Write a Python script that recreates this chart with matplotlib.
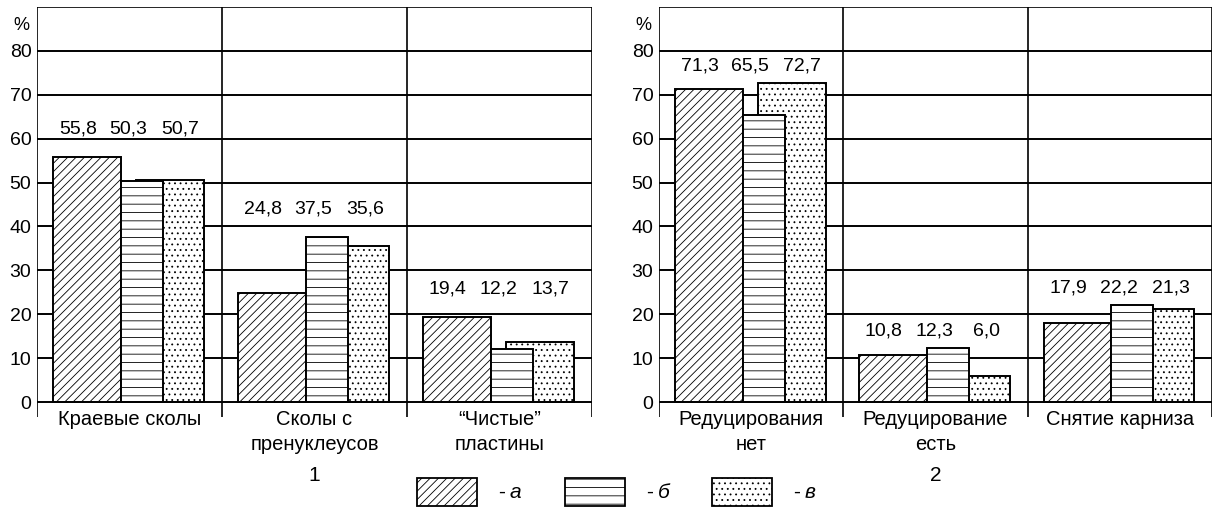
import numpy as np
import matplotlib
matplotlib.use("Agg")
import matplotlib.pyplot as plt
from matplotlib.patches import Rectangle

plt.rcParams["font.family"] = ["Liberation Sans", "DejaVu Sans"]
plt.rcParams["hatch.linewidth"] = 0.6

# panel 1
cats1 = ["Краевые сколы", "Сколы с\nпренуклеусов", "\u201cЧистые\u201d\nпластины"]
a1 = [55.8, 24.8, 19.4]
b1 = [50.3, 37.5, 12.2]
v1 = [50.7, 35.6, 13.7]

# panel 2
cats2 = ["Редуцирования\nнет", "Редуцирование\nесть", "Снятие карниза"]
a2 = [71.3, 10.8, 17.9]
b2 = [65.5, 12.3, 22.2]
v2 = [72.7, 6.0, 21.3]

yticks = [0, 10, 20, 30, 40, 50, 60, 70, 80]
series_names = ["а", "б", "в"]
hatches = ["////", "--", "..."]

W, H = 1214, 508
fig = plt.figure(figsize=(W / 100, H / 100), dpi=100)


def fmt(v):
    return f"{v:.1f}".replace(".", ",")


def draw_panel(ax, cats, a, b, v, label_off, panel_no):
    n = len(cats)
    left = np.arange(n)
    ax.set_xlim(0, n)
    ax.set_ylim(-3.4, 90)
    for s in ax.spines.values():
        s.set_visible(False)
    # grid
    for y in yticks[1:]:
        ax.plot([0, n], [y, y], color="black", lw=1.4, zorder=0.5)
    ax.plot([0, n], [0, 0], color="black", lw=1.4, zorder=4)
    ax.plot([0, n], [90, 90], color="black", lw=1.2, zorder=4)
    for x in range(n + 1):
        ax.plot([x, x], [-3.4, 90], color="black", lw=1.2, zorder=4)

    # bars: в behind б
    ax.bar(left + 0.535, v, width=0.37, align="edge", color="white",
           edgecolor="black", hatch=hatches[2], lw=1.4, zorder=1)
    ax.bar(left + 0.086, a, width=0.368, align="edge", color="white",
           edgecolor="black", hatch=hatches[0], lw=1.4, zorder=2)
    ax.bar(left + 0.454, b, width=0.228, align="edge", color="white",
           edgecolor="black", hatch=hatches[1], lw=1.4, zorder=3)

    for i in range(n):
        ytxt = max(a[i], b[i], v[i]) + label_off
        for dx, val in zip([0.22, 0.495, 0.775], [a[i], b[i], v[i]]):
            ax.text(i + dx, ytxt, fmt(val), ha="center", va="center",
                    fontsize=14)
        ax.text(i + 0.5, -1.9, cats[i], ha="center", va="top", fontsize=14.5,
                linespacing=1.4)

    ax.set_xticks([])
    ax.set_yticks(yticks)
    ax.set_yticklabels([str(t) for t in yticks], fontsize=14)
    ax.tick_params(axis="y", length=0, pad=4)
    ax.text(-0.085, 85.8, "%", ha="center", va="center", fontsize=13)
    ax.text(1.5, -16.8, panel_no, ha="center", va="center", fontsize=15)


ax1 = fig.add_axes([37 / W, (H - 417) / H, 555 / W, 410 / H])
ax2 = fig.add_axes([659 / W, (H - 417) / H, 553 / W, 410 / H])
ax1.set_facecolor("none")
ax2.set_facecolor("none")
draw_panel(ax1, cats1, a1, b1, v1, 6.4, "1")
draw_panel(ax2, cats2, a2, b2, v2, 3.8, "2")
for ax in (ax1, ax2):
    for t in ax.texts:
        t.set_clip_on(False)

# legend
box_x = [417, 565, 712]
for bx, h, name in zip(box_x, hatches, series_names):
    r = Rectangle((bx / W, 2 / H), 60 / W, 28 / H, transform=fig.transFigure,
                  facecolor="white", edgecolor="black", hatch=h, lw=1.3)
    fig.add_artist(r)
    fig.text((bx + 81) / W, 16 / H, "-", ha="left", va="center", fontsize=15)
    fig.text((bx + 93) / W, 15 / H, name, ha="left", va="center", fontsize=15,
             style="italic")

fig.savefig("out.png", dpi=100)
